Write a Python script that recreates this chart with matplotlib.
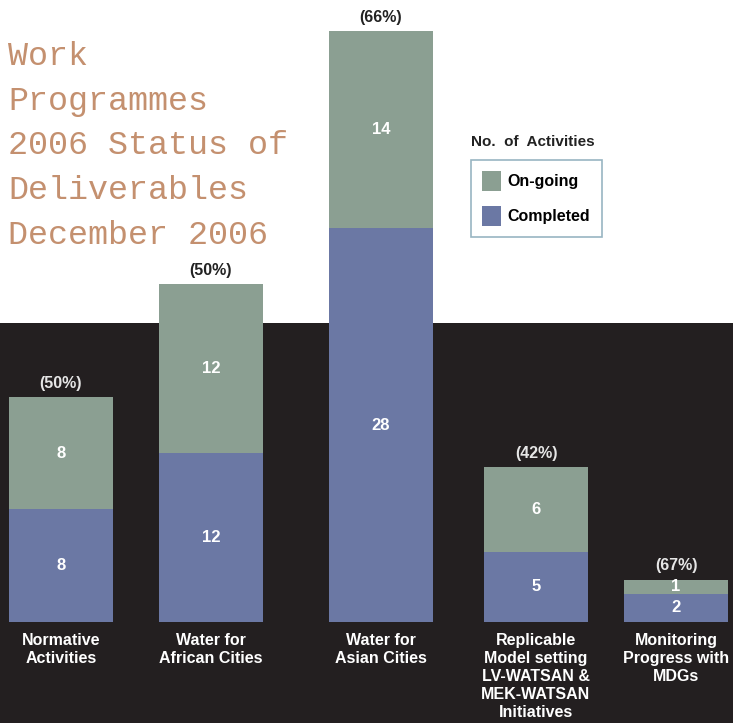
import numpy as np
import matplotlib.pyplot as plt
from matplotlib.patches import Rectangle

# data
categories = ['Normative\nActivities', 'Water for\nAfrican Cities', 'Water for\nAsian Cities',
              'Replicable\nModel setting\nLV-WATSAN &\nMEK-WATSAN\nInitiatives',
              'Monitoring\nProgress with\nMDGs']
completed = [8, 12, 28, 5, 2]
ongoing = [8, 12, 14, 6, 1]
pct_labels = ['(50%)', '(50%)', '(66%)', '(42%)', '(67%)']

# colours
c_done = '#6b78a4'
c_going = '#8b9f92'
c_dark = '#231f20'
c_title = '#c4906f'

plt.rcParams['font.family'] = ['Liberation Sans', 'DejaVu Sans']

W, H = 733, 723
fig = plt.figure(figsize=(W / 100, H / 100), dpi=100)
fig.patch.set_facecolor('white')
# dark lower panel
fig.patches.append(Rectangle((0, 0), 1, (H - 323) / H, transform=fig.transFigure,
                             facecolor=c_dark, edgecolor='none', zorder=-5))

ax = fig.add_axes([0, 0, 1, 1])
ax.set_zorder(1)
ax.set_facecolor('none')
px_per_unit = 14.07
base_px = 622
ax.set_xlim(0, W)
ax.set_ylim(-(H - base_px) / px_per_unit, base_px / px_per_unit)
ax.axis('off')

xpos = [61, 211, 381, 536, 676]
bw = 104
done = np.array(completed)
going = np.array(ongoing)
b1 = ax.bar(xpos, done, width=bw, color=c_done, label='Completed', zorder=2)
b2 = ax.bar(xpos, going, width=bw, bottom=done, color=c_going, label='On-going', zorder=2)

for i, x in enumerate(xpos):
    ax.text(x, done[i] / 2, str(done[i]), ha='center', va='center', color='white',
            fontsize=12, fontweight='bold', zorder=3)
    ax.text(x, done[i] + going[i] / 2, str(going[i]), ha='center', va='center', color='white',
            fontsize=12, fontweight='bold', zorder=3)
    top = done[i] + going[i]
    pc = '#222222' if x in (211, 381) else '#e6e6e6'
    ax.text(x, top + 0.45, pct_labels[i], ha='center', va='bottom', color=pc,
            fontsize=11.5, fontweight='bold', zorder=3)
    ax.text(x, -0.8, categories[i], ha='center', va='top', color='white',
            fontsize=11.5, fontweight='bold', linespacing=1.24, zorder=3)

# title
fig.text(8 / W, 1 - 41 / H, 'Work\nProgrammes\n2006 Status of\nDeliverables\nDecember 2006',
         ha='left', va='top', color=c_title, fontsize=24, family='Liberation Mono',
         linespacing=1.57)

# legend
fig.text(471 / W, 1 - 142 / H, 'No.  of  Activities', ha='left', va='center',
         fontsize=11, fontweight='bold', color='#222222')
leg = ax.legend(handles=[b2, b1], loc='upper left',
                bbox_to_anchor=(471 / W, 1 - 160 / H), frameon=True, fancybox=False,
                edgecolor='#7fa3b3', handlelength=1.15, handleheight=1.55,
                borderpad=0.7, labelspacing=0.9, handletextpad=0.45, borderaxespad=0,
                prop={'weight': 'bold', 'size': 11.5})
leg.get_frame().set_linewidth(1.2)
leg.get_frame().set_facecolor('white')

fig.savefig('out.png', dpi=100, facecolor=fig.get_facecolor())
